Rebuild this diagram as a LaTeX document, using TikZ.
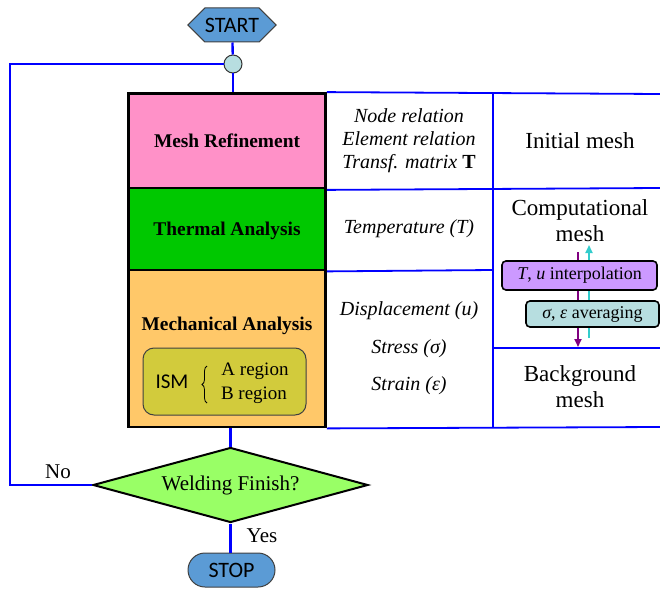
\documentclass[tikz,border=0pt]{standalone}
\usepackage{fontspec}
\setmainfont{Liberation Serif}
\newfontfamily\sansc{Carlito}
\usetikzlibrary{shapes.geometric,shapes.symbols,shapes.misc,arrows.meta,decorations.pathreplacing}
\definecolor{flowblue}{HTML}{0000FF}
\definecolor{termblue}{HTML}{5B9BD5}
\definecolor{pinkbox}{HTML}{FF91C8}
\definecolor{greenbox}{HTML}{00C800}
\definecolor{orangebox}{HTML}{FFC869}
\definecolor{ismfill}{HTML}{D2CB3C}
\definecolor{diafill}{HTML}{99FF66}
\definecolor{jfill}{HTML}{B7DEE0}
\definecolor{purplebox}{HTML}{CC99FF}
\definecolor{cyanbox}{HTML}{B7DEE0}
\definecolor{arrpurple}{HTML}{800080}
\definecolor{arrcyan}{HTML}{33CCCC}
\begin{document}
\begin{tikzpicture}[x=1pt,y=-1pt,
  flow/.style={draw=flowblue, line width=2.4pt},
  gridline/.style={draw=flowblue, line width=1.8pt},
  stage/.style={draw=black, line width=2.8pt, minimum width=197pt, inner sep=0pt},
  stagetext/.style={font=\fontsize{19.4}{21}\selectfont\bfseries},
  celltext/.style={align=center, font=\fontsize{20}{23}\selectfont\itshape},
  righttext/.style={align=center, font=\fontsize{23}{26}\selectfont},
  term/.style={fill=termblue, draw=black!75, line width=1pt, inner sep=0pt, font=\sansc\fontsize{22}{22}\selectfont},
  tagbox/.style={draw=black, line width=1.6pt, rounded corners=4pt, inner sep=0pt, font=\fontsize{18}{20}\selectfont},
  lbl/.style={font=\fontsize{21}{22}\selectfont},
  tipa/.style={-{Triangle[length=8pt,width=7pt]}, line width=1.8pt}
]
\useasboundingbox (0,0) rectangle (660,588);

% terminals and junction
\node[term, signal, signal to=west and east, signal pointer angle=90, minimum width=88pt, minimum height=34pt] (start) at (232,25) {START};
\node[circle, draw=black!80, fill=jfill, line width=1pt, minimum size=18pt, inner sep=0pt] (junc) at (233,64) {};
\node[term, rounded rectangle, minimum width=87pt, minimum height=34pt] (stop) at (231.5,570) {STOP};

% stage boxes
\node[stage, fill=pinkbox, minimum height=95pt] (mesh) at (227,141) {};
\node[stage, fill=greenbox, minimum height=82pt] (therm) at (227,229) {};
\node[stage, fill=orangebox, minimum height=157pt] (mech) at (227,348.5) {};
\node[stagetext] (meshT) at (227,141) {Mesh Refinement};
\node[stagetext] (thermT) at (227,231) {Thermal Analysis};
\node[stagetext] (mechT) at (227,326) {Mechanical Analysis};

% ISM box
\node[draw=black!75, fill=ismfill, rounded corners=11pt, line width=1pt, minimum width=163pt, minimum height=67pt] (ism) at (224.5,381.5) {};
\node[font=\sansc\fontsize{21}{21}\selectfont] (ismT) at (172,382) {ISM};
\draw[line width=0.8pt, decorate, decoration={brace, amplitude=5pt}] (207,403) -- (207,366);
\node[font=\fontsize{19}{20}\selectfont] (regA) at (255,371) {A region};
\node[font=\fontsize{19}{20}\selectfont] (regB) at (254,395) {B region};

% table grid
\draw[gridline] (mesh.north east) -- (660,94);
\draw[gridline] (mesh.south east) -- (660,188);
\draw[gridline] (therm.south east) -- (493,270);
\draw[gridline] (493,348) -- (660,348);
\draw[gridline] (mech.south east) -- (660,427);
\draw[gridline] (493,94) -- (493,427);

% middle column texts
\node[celltext] (c1) at (409,141) {Node relation\\Element relation\\Transf. matrix \upshape\textbf{T}};
\node[celltext] (c2) at (409,229) {Temperature (T)};
\node[celltext] (c3) at (409,311) {Displacement (u)};
\node[celltext] (c4) at (409,349) {Stress (σ)};
\node[celltext] (c5) at (409,386) {Strain (ε)};

% right column texts
\node[righttext] (r1) at (580,141) {Initial mesh};
\node[righttext] (r2) at (580,221) {Computational\\mesh};
\node[righttext] (r3) at (580,387) {Background\\mesh};

% transfer arrows
\coordinate (pa1) at (578,252);
\coordinate (pa2) at (578,347);
\coordinate (ca1) at (589,338);
\coordinate (ca2) at (589,245);
\draw[tipa, draw=arrpurple, fill=arrpurple] (pa1) -- (pa2);
\draw[tipa, draw=arrcyan, fill=arrcyan] (ca1) -- (ca2);
\node[tagbox, fill=purplebox, minimum width=155pt, minimum height=29pt] (interp) at (579.5,275.5) {\textit{T}, \textit{u} interpolation};
\node[tagbox, fill=cyanbox, minimum width=133pt, minimum height=26pt] (avg) at (592.5,314) {\textit{σ}, \textit{ε} averaging};

% decision
\node[diamond, aspect=3.67, draw=black, fill=diafill, line width=2pt, minimum width=275pt, minimum height=75pt, inner sep=0pt, font=\fontsize{21}{22}\selectfont] (dia) at (230.5,485) {Welding Finish?};

% flow lines
\coordinate (lt) at (10,64);
\coordinate (lb) at (10,485);
\draw[flow] (start) -- (junc);
\draw[flow] (junc) -- (junc |- mesh.north);
\draw[flow] (junc) -- (lt) -- (lb) -- (dia.west);
\draw[flow] (dia.north |- mech.south) -- (dia.north);
\draw[flow] (dia.south) -- (stop.north -| dia.south);
\node[lbl] (no) at (58,472) {No};
\node[lbl] (yes) at (262,536) {Yes};
\end{tikzpicture}
\end{document}
